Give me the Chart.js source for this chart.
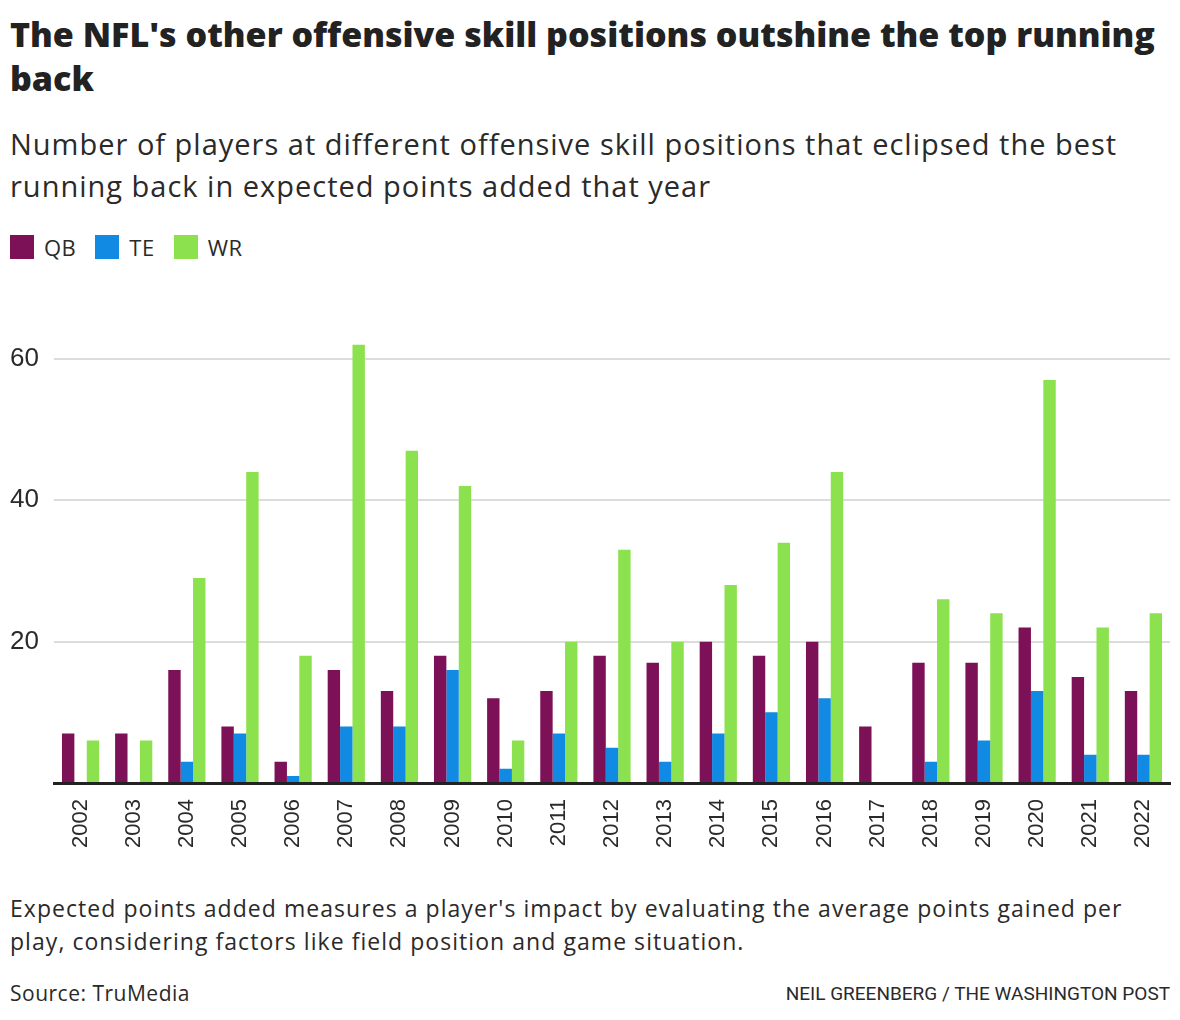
<!DOCTYPE html>
<html>
<head>
<meta charset="utf-8">
<script src="https://cdn.jsdelivr.net/npm/chart.js@4"></script>
<style>
  body { margin: 0; background: #fff; color: #2a2a2a; font-family: 'Open Sans', sans-serif; }
  #page { position: relative; width: 1180px; height: 1020px; overflow: hidden; }
  .title { position: absolute; left: 10px; top: 12px; width: 1170px; white-space: nowrap; font-family: 'Open Sans', sans-serif; font-weight: 800; font-size: 34px; line-height: 44px; color: #222; }
  .sub { position: absolute; left: 10px; top: 123px; width: 1170px; white-space: nowrap; font-family: 'Open Sans', sans-serif; font-weight: 400; font-size: 29px; letter-spacing: 1.0px; line-height: 42px; color: #2a2a2a; }
  .legend { position: absolute; left: 10px; top: 232px; font-family: 'Open Sans', sans-serif; font-size: 22px; letter-spacing: 0.5px; color: #2a2a2a; display: flex; align-items: center; }
  .legend span.sw { display: inline-block; width: 24px; height: 24px; margin-right: 10px; }
  .legend span.lb { margin-right: 19px; }
  #wrap { position: absolute; left: 0; top: 315px; width: 1180px; height: 550px; }
  .note { position: absolute; left: 10px; top: 892px; width: 1170px; white-space: nowrap; font-family: 'Open Sans', sans-serif; font-weight: 400; font-size: 23px; letter-spacing: 1.05px; line-height: 33px; color: #2a2a2a; }
  .src { position: absolute; left: 10px; top: 979px; font-family: 'Open Sans', sans-serif; font-weight: 400; font-size: 21px; letter-spacing: 0.5px; color: #2a2a2a; }
  .credit { position: absolute; right: 10px; top: 982px; font-family: 'Roboto', sans-serif; font-size: 19px; color: #2a2a2a; }
</style>
</head>
<body>
<div id="page">
  <div class="title">The NFL's other offensive skill positions outshine the top running<br>back</div>
  <div class="sub">Number of players at different offensive skill positions that eclipsed the best<br>running back in expected points added that year</div>
  <div class="legend" id="legend"></div>
  <div id="wrap"><canvas id="chart"></canvas></div>
  <div class="note">Expected points added measures a player's impact by evaluating the average points gained per<br>play, considering factors like field position and game situation.</div>
  <div class="src">Source: TruMedia</div>
  <div class="credit">NEIL GREENBERG / THE WASHINGTON POST</div>
</div>
<script>
const years = ['2002', '2003', '2004', '2005', '2006', '2007', '2008', '2009', '2010', '2011', '2012',
  '2013', '2014', '2015', '2016', '2017', '2018', '2019', '2020', '2021', '2022'];
const qb = [7, 7, 16, 8, 3, 16, 13, 18, 12, 13, 18, 17, 20, 18, 20, 8, 17, 17, 22, 15, 13];
const te = [0, 0, 3, 7, 1, 8, 8, 16, 2, 7, 5, 3, 7, 10, 12, 0, 3, 6, 13, 4, 4];
const wr = [6, 6, 29, 44, 18, 62, 47, 42, 6, 20, 33, 20, 28, 34, 44, 0, 26, 24, 57, 22, 24];
const yTicks = [20, 40, 60];

const seriesNames = ['QB', 'TE', 'WR'];
const seriesColors = ['#7c1157', '#108ae2', '#8ce14e'];
const seriesData = [qb, te, wr];

// html legend
const legend = document.getElementById('legend');
seriesNames.forEach((name, i) => {
  legend.innerHTML += `<span class="sw" style="background:${seriesColors[i]}"></span><span class="lb">${name}</span>`;
});

new Chart(document.getElementById('chart'), {
  type: 'bar',
  data: {
    labels: years,
    datasets: seriesNames.map((name, i) => ({
      label: name,
      data: seriesData[i],
      backgroundColor: seriesColors[i],
      borderWidth: 0,
      barPercentage: 1.0,
      categoryPercentage: 0.7
    }))
  },
  options: {
    responsive: true,
    maintainAspectRatio: false,
    animation: false,
    layout: { padding: { left: 10, right: 10, top: 5, bottom: 0 } },
    plugins: { legend: { display: false }, tooltip: { enabled: false } },
    scales: {
      x: {
        grid: { display: false },
        border: { color: '#222', width: 3 },
        ticks: {
          minRotation: 90, maxRotation: 90,
          color: '#2a2a2a',
          font: { family: 'Liberation Sans', size: 22 },
          padding: 8
        },
        afterFit: s => { s.height = 82; }
      },
      y: {
        min: 0, max: 64,
        afterBuildTicks: s => { s.ticks = [0].concat(yTicks).map(v => ({ value: v })); },
        grid: {
          color: c => (c.tick && c.tick.value === 0 ? 'rgba(0,0,0,0)' : '#dcdcdc'),
          lineWidth: 2,
          drawTicks: false
        },
        border: { display: false },
        ticks: {
          color: '#2a2a2a',
          font: { family: 'Liberation Sans', size: 26 },
          crossAlign: 'far',
          padding: 0,
          callback: v => (v === 0 ? '' : v)
        },
        afterFit: s => { s.width = 44; }
      }
    }
  }
});
</script>
</body>
</html>
